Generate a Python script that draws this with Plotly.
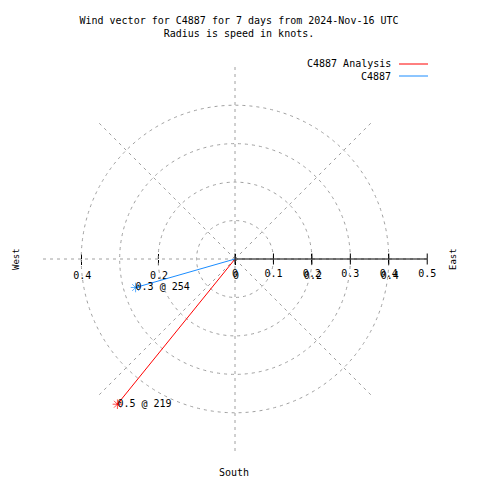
import plotly.graph_objects as go

# ---- data ----
series_names = ["C4887 Analysis", "C4887"]
speeds = [0.486, 0.269]          # knots
directions = [219, 254]          # degrees, clockwise from north
line_colors = ["#ff0000", "#1a8cff"]
radial_ticks = [0, 0.1, 0.2, 0.3, 0.4, 0.5]
radial_labels = ["0", "0.1", "0.2", "0.3", "0.4", "0.5"]
x_ticks = [-0.4, -0.2, 0, 0.2, 0.4]
x_tick_labels = ["0.4", "0.2", "0", "0.2", "0.4"]

FONT = "DejaVu Sans Mono"
GRID = "#a0a0a0"
RMAX = 0.502
CLEAR = "rgba(0,0,0,0)"

fig = go.Figure()

# invisible cartesian traces so that the gnuplot-style x tics are drawn
fig.add_trace(go.Scatter(x=[], y=[], xaxis="x", yaxis="y", showlegend=False, hoverinfo="skip"))
fig.add_trace(go.Scatter(x=[], y=[], xaxis="x2", yaxis="y", showlegend=False, hoverinfo="skip"))

for name, s, d, c in zip(series_names, speeds, directions, line_colors):
    fig.add_trace(go.Scatterpolar(
        r=[0, s], theta=[d, d], subplot="polar",
        mode="lines+markers",
        line=dict(color=c, width=1),
        marker=dict(symbol="asterisk-open", size=[0, 8], color=c, line=dict(color=c, width=1)),
        name=name, showlegend=False, hoverinfo="skip",
    ))
    fig.add_trace(go.Scatterpolar(
        r=[s], theta=[d], subplot="polar", mode="text",
        text=[f"{s:.1f} @ {d}"], textposition="middle right",
        textfont=dict(family=FONT, size=10, color="black"),
        showlegend=False, hoverinfo="skip",
    ))

fig.add_trace(go.Scatterpolar(r=[], theta=[], subplot="polar2", showlegend=False, hoverinfo="skip"))

dom = dict(x=[0, 1], y=[0, 1])
ang_main = dict(rotation=90, direction="clockwise", dtick=45, showticklabels=False, ticks="",
                showline=False, showgrid=True, gridcolor=GRID, griddash="3px,4px", gridwidth=1)
ang_hidden = dict(rotation=90, direction="clockwise", visible=False)
tf = dict(family=FONT, size=10, color="black")

fig.update_layout(
    width=480, height=480,
    margin=dict(l=34, r=60, t=58, b=36),
    paper_bgcolor="white", plot_bgcolor="white",
    font=dict(family=FONT, size=10, color="black"),
    title=dict(text="Wind vector for C4887 for 7 days from 2024-Nov-16 UTC<br>Radius is speed in knots.",
               x=231/480, xanchor="center", y=1-16/480, yanchor="top",
               font=dict(family=FONT, size=10, color="black")),
    xaxis=dict(domain=[0, 1], range=[-RMAX, RMAX], anchor="free", position=0.5, side="bottom",
               tickvals=x_ticks, ticktext=x_tick_labels, ticks="outside", ticklen=5,
               tickcolor="black", ticklabelstandoff=2, ticklabelshift=1,
               showline=False, showgrid=False, zeroline=False, tickfont=tf, fixedrange=True),
    xaxis2=dict(domain=[0, 1], range=[-RMAX, RMAX], anchor="free", position=0.5, side="bottom",
                overlaying="x", tickvals=x_ticks, ticktext=[""] * len(x_ticks),
                ticks="inside", ticklen=5, tickcolor="black",
                showline=False, showgrid=False, zeroline=False, fixedrange=True),
    yaxis=dict(domain=[0, 1], range=[-RMAX, RMAX], visible=False, fixedrange=True),
    polar=dict(domain=dom, bgcolor=CLEAR, angularaxis=ang_main,
               radialaxis=dict(range=[0, RMAX], angle=0, side="clockwise",
                               tickvals=radial_ticks, ticktext=[""] * len(radial_ticks),
                               ticks="inside", ticklen=5, tickcolor="black",
                               showline=True, linecolor="black", linewidth=1,
                               showgrid=True, gridcolor=GRID, griddash="3px,4px", gridwidth=1,
                               tickfont=tf)),
    polar2=dict(domain=dom, bgcolor=CLEAR, angularaxis=ang_hidden,
                radialaxis=dict(range=[0, RMAX], angle=0, side="clockwise",
                                tickvals=radial_ticks, ticktext=radial_labels,
                                ticks="outside", ticklen=5, tickcolor="black",
                                showline=False, showgrid=False, tickfont=tf)),
)

# paper coordinates (paper spans the polar domain box)
L, T, W = 41, 65, 386

def px(x):
    return (x - L) / W

def py(y):
    return (T + W - y) / W

# custom gnuplot-style key (text then sample line)
for i, (name, c) in enumerate(zip(series_names, line_colors)):
    yy = 63 + 12 * i
    fig.add_annotation(text=name, xref="paper", yref="paper", x=px(392), y=py(yy),
                       xanchor="right", yanchor="middle", showarrow=False,
                       font=dict(family=FONT, size=10, color="black"))
    fig.add_shape(type="line", xref="paper", yref="paper", x0=px(398), x1=px(427),
                  y0=py(yy), y1=py(yy), line=dict(color=c, width=1))

for txt, x, y, ang, size in [("West", 15, 258, -90, 9), ("East", 452, 258, -90, 9), ("South", 233, 471, 0, 10)]:
    fig.add_annotation(text=txt, xref="paper", yref="paper", x=px(x), y=py(y), textangle=ang,
                       xanchor="center", yanchor="middle", showarrow=False,
                       font=dict(family=FONT, size=size, color="black"))

fig.write_html("out.html")
